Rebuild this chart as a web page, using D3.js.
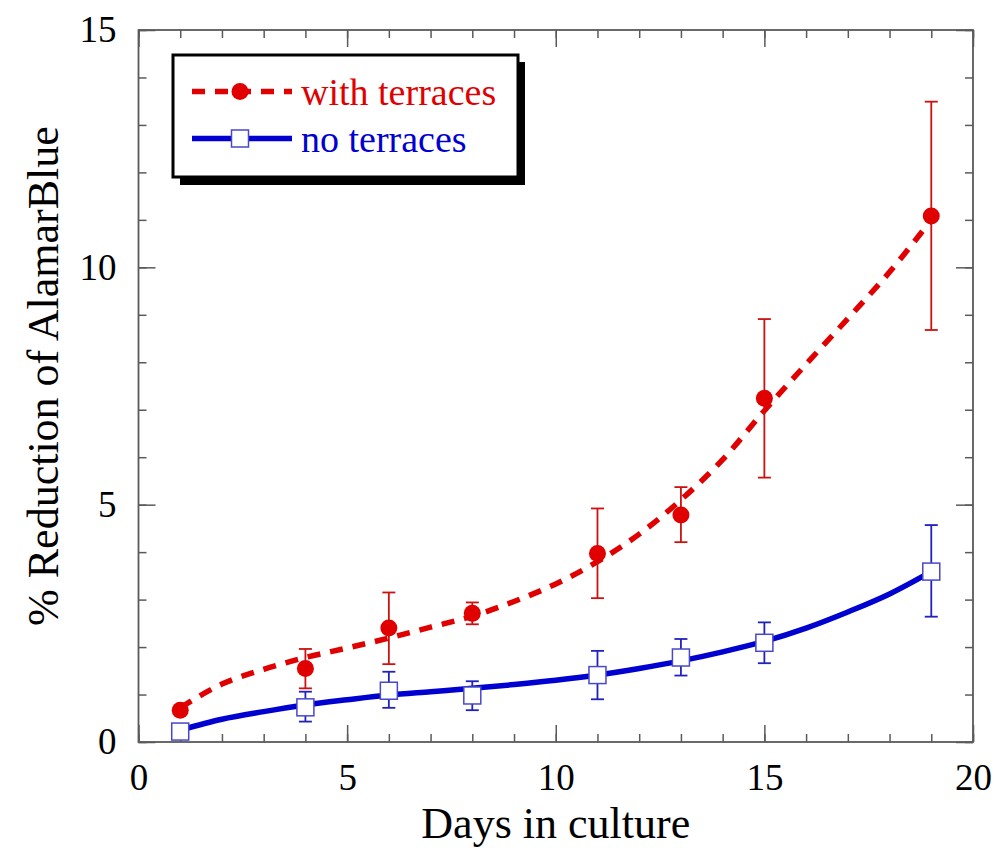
<!DOCTYPE html>
<html>
<head>
<meta charset="utf-8">
<script src="https://cdn.jsdelivr.net/npm/d3@7"></script>
<style>
body { margin: 0; background: #fff; }
text { font-family: "Liberation Serif", "Times New Roman", serif; }
</style>
</head>
<body>
<div id="vis"></div>
<script>
// measured points (day, mean, low, high)
var days = [1, 4, 6, 8, 11, 13, 15, 19];
var withMean = [0.67, 1.55, 2.40, 2.71, 3.97, 4.78, 7.24, 11.08];
var withLow  = [0.60, 1.13, 1.64, 2.48, 3.03, 4.21, 5.57, 8.68];
var withHigh = [0.74, 1.96, 3.15, 2.94, 4.92, 5.37, 8.91, 13.49];
var noMean = [0.22, 0.73, 1.08, 0.98, 1.41, 1.78, 2.09, 3.59];
var noLow  = [0.12, 0.43, 0.72, 0.67, 0.90, 1.40, 1.66, 2.64];
var noHigh = [0.34, 1.06, 1.48, 1.28, 1.92, 2.17, 2.52, 4.57];

// fitted curves
var fitDays = [1, 2, 3, 4, 5, 6, 7, 8, 9, 10, 11, 12, 13, 14, 15, 16, 17, 18, 19];
var withFit = [0.72, 1.22, 1.53, 1.78, 1.98, 2.19, 2.42, 2.65, 2.96, 3.33, 3.80, 4.38, 5.10, 5.95, 6.98, 7.96, 8.92, 9.90, 11.0];
var noFit   = [0.25, 0.48, 0.64, 0.78, 0.89, 0.99, 1.06, 1.13, 1.21, 1.30, 1.41, 1.55, 1.71, 1.90, 2.12, 2.40, 2.74, 3.12, 3.59];

var xMajor = [0, 5, 10, 15, 20];
var yMajor = [0, 5, 10, 15];
var legendLabels = ['with terraces', 'no terraces'];

var W = 996, H = 848;
var margin = { left: 138.5, top: 30, right: 23, bottom: 106 };
var red = '#e00000', redBar = '#cc1111';
var blue = '#0000d0', blueBar = '#2222bb', blueBox = '#4848c8';
var frame = '#5a5a5a';

var svg = d3.select('#vis').append('svg')
    .attr('width', W)
    .attr('height', H);

var x = d3.scaleLinear().domain([0, 20]).range([margin.left, W - margin.right]);
var y = d3.scaleLinear().domain([0, 15]).range([H - margin.bottom, margin.top]);

var x0 = x.range()[0], x1 = x.range()[1];
var y0 = y.range()[0], y1 = y.range()[1];

// axes: major + minor ticks on all four sides, pointing inward
function styleAxis(g)
{
    g.select('.domain').remove();
    g.selectAll('.tick line').attr('stroke', frame).attr('stroke-width', 1.5);
}

var minorX = d3.range(0, 21);
var minorY = d3.range(0, 16);

svg.append('g').attr('transform', 'translate(0,' + y0 + ')')
    .call(d3.axisBottom(x).tickValues(minorX).tickSize(-8).tickFormat(''))
    .call(styleAxis);
svg.append('g').attr('transform', 'translate(0,' + y0 + ')')
    .call(d3.axisBottom(x).tickValues(xMajor).tickSize(-17).tickPadding(22).tickFormat(d3.format('d')))
    .call(styleAxis)
    .selectAll('text')
        .attr('fill', '#000')
        .attr('font-size', 37)
        .attr('font-family', 'Liberation Serif');
svg.append('g').attr('transform', 'translate(0,' + y1 + ')')
    .call(d3.axisTop(x).tickValues(minorX).tickSize(-8).tickFormat(''))
    .call(styleAxis);
svg.append('g').attr('transform', 'translate(0,' + y1 + ')')
    .call(d3.axisTop(x).tickValues(xMajor).tickSize(-17).tickFormat(''))
    .call(styleAxis);

svg.append('g').attr('transform', 'translate(' + x0 + ',0)')
    .call(d3.axisLeft(y).tickValues(minorY).tickSize(-8).tickFormat(''))
    .call(styleAxis);
svg.append('g').attr('transform', 'translate(' + x0 + ',0)')
    .call(d3.axisLeft(y).tickValues(yMajor).tickSize(-17).tickPadding(22).tickFormat(d3.format('d')))
    .call(styleAxis)
    .selectAll('text')
        .attr('fill', '#000')
        .attr('font-size', 37)
        .attr('font-family', 'Liberation Serif');
svg.append('g').attr('transform', 'translate(' + x1 + ',0)')
    .call(d3.axisRight(y).tickValues(minorY).tickSize(-8).tickFormat(''))
    .call(styleAxis);
svg.append('g').attr('transform', 'translate(' + x1 + ',0)')
    .call(d3.axisRight(y).tickValues(yMajor).tickSize(-17).tickFormat(''))
    .call(styleAxis);

// plot frame
svg.append('rect')
    .attr('x', x0).attr('y', y1)
    .attr('width', x1 - x0).attr('height', y0 - y1)
    .attr('fill', 'none')
    .attr('stroke', frame)
    .attr('stroke-width', 1.8);

// axis titles
svg.append('text')
    .attr('x', (x0 + x1) / 2)
    .attr('y', 838)
    .attr('text-anchor', 'middle')
    .attr('font-size', 44)
    .text('Days in culture');

svg.append('text')
    .attr('transform', 'translate(58,' + 376 + ') rotate(-90)')
    .attr('text-anchor', 'middle')
    .attr('font-size', 44)
    .text('% Reduction of AlamarBlue');

// fitted curves
var line = d3.line()
    .x(function(d) { return x(d[0]); })
    .y(function(d) { return y(d[1]); })
    .curve(d3.curveMonotoneX);

svg.append('path')
    .datum(d3.zip(fitDays, noFit))
    .attr('d', line)
    .attr('fill', 'none')
    .attr('stroke', blue)
    .attr('stroke-width', 5.5);

svg.append('path')
    .datum(d3.zip(fitDays, withFit))
    .attr('d', line)
    .attr('fill', 'none')
    .attr('stroke', red)
    .attr('stroke-width', 5.5)
    .attr('stroke-dasharray', '13,10');

// error bars
function errorBars(lo, hi, color)
{
    var g = svg.append('g').attr('stroke', color).attr('stroke-width', 1.8);
    var data = d3.zip(days, lo, hi);
    g.selectAll('.stem').data(data).enter().append('line')
        .attr('x1', function(d) { return x(d[0]); })
        .attr('x2', function(d) { return x(d[0]); })
        .attr('y1', function(d) { return y(d[1]); })
        .attr('y2', function(d) { return y(d[2]); });
    [1, 2].forEach(function(k) {
        g.selectAll('.cap' + k).data(data).enter().append('line')
            .attr('x1', function(d) { return x(d[0]) - 6.5; })
            .attr('x2', function(d) { return x(d[0]) + 6.5; })
            .attr('y1', function(d) { return y(d[k]); })
            .attr('y2', function(d) { return y(d[k]); });
    });
}
errorBars(withLow, withHigh, redBar);
errorBars(noLow, noHigh, blueBar);

// markers
svg.append('g').selectAll('circle')
    .data(d3.zip(days, withMean))
    .enter().append('circle')
        .attr('cx', function(d) { return x(d[0]); })
        .attr('cy', function(d) { return y(d[1]); })
        .attr('r', 8.5)
        .attr('fill', red);

svg.append('g').selectAll('rect')
    .data(d3.zip(days, noMean))
    .enter().append('rect')
        .attr('x', function(d) { return x(d[0]) - 8.5; })
        .attr('y', function(d) { return y(d[1]) - 8.5; })
        .attr('width', 17)
        .attr('height', 17)
        .attr('fill', '#fff')
        .attr('stroke', blueBox)
        .attr('stroke-width', 1.5);

// legend
var lg = svg.append('g');
lg.append('rect')
    .attr('x', 180).attr('y', 62)
    .attr('width', 345).attr('height', 123)
    .attr('fill', '#000');
lg.append('rect')
    .attr('x', 173).attr('y', 55)
    .attr('width', 345).attr('height', 122)
    .attr('fill', '#fff')
    .attr('stroke', '#000')
    .attr('stroke-width', 3);

var legendRows = [
    { label: legendLabels[0], color: red, yy: 91.5, dash: '13,10', marker: 'circle' },
    { label: legendLabels[1], color: blue, yy: 138.5, dash: null, marker: 'square' }
];
legendRows.forEach(function(r) {
    lg.append('line')
        .attr('x1', 192).attr('x2', 292)
        .attr('y1', r.yy).attr('y2', r.yy)
        .attr('stroke', r.color)
        .attr('stroke-width', 5.5)
        .attr('stroke-dasharray', r.dash);
    if(r.marker == 'circle')
    {
        lg.append('circle').attr('cx', 240).attr('cy', r.yy).attr('r', 8.5).attr('fill', red);
    }
    else
    {
        lg.append('rect')
            .attr('x', 231.5).attr('y', r.yy - 8.5)
            .attr('width', 17).attr('height', 17)
            .attr('fill', '#fff').attr('stroke', blueBox).attr('stroke-width', 1.5);
    }
    lg.append('text')
        .attr('x', 301)
        .attr('y', r.yy + 13)
        .attr('font-size', 38)
        .attr('fill', r.color)
        .text(r.label);
});
</script>
</body>
</html>
